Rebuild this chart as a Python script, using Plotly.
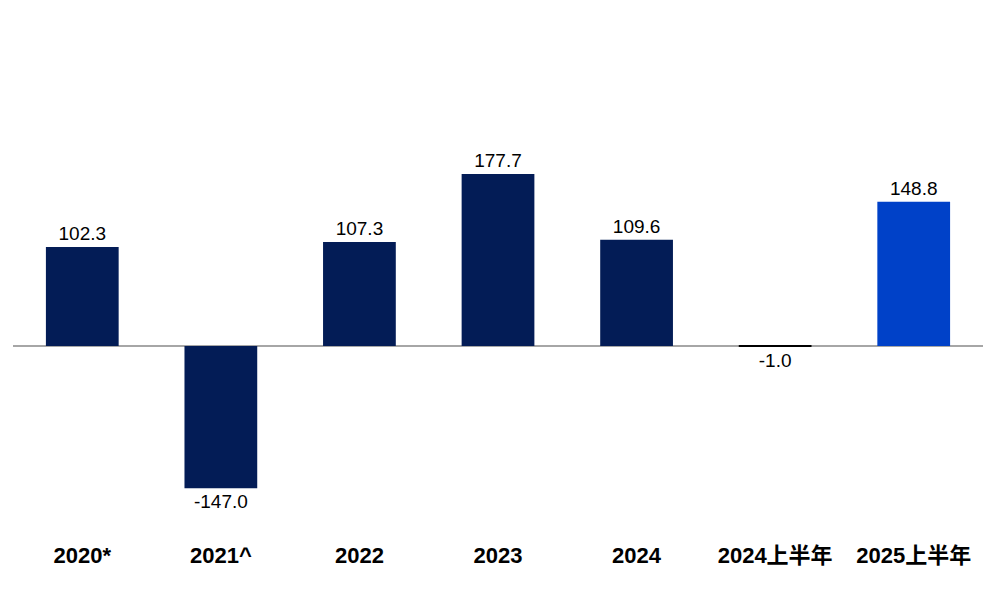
import plotly.graph_objects as go

CATEGORIES = ["2020*", "2021^", "2022", "2023", "2024", "2024上半年", "2025上半年"]
VALUES = [102.3, -147.0, 107.3, 177.7, 109.6, -1.0, 148.8]
BAR_COLORS = ["#031c56", "#031c56", "#031c56", "#031c56", "#031c56", "#000000", "#0041c8"]

FONT = "Liberation Sans, Arial, Noto Sans CJK SC, sans-serif"

fig = go.Figure(
    go.Bar(
        x=CATEGORIES,
        y=VALUES,
        marker=dict(color=BAR_COLORS, line=dict(width=0)),
        text=[f"{v:.1f}" for v in VALUES],
        textposition="outside",
        textfont=dict(family=FONT, size=19, color="#000000"),
        cliponaxis=False,
    )
)

fig.update_xaxes(
    tickfont=dict(family=FONT, size=22, color="#000000", weight="bold"),
    showgrid=False,
    showline=False,
    ticks="",
    automargin=False,
)
fig.update_yaxes(
    range=[-200.4, 254],
    showgrid=False,
    showticklabels=False,
    zeroline=True,
    zerolinecolor="#a6a6a6",
    zerolinewidth=2,
    automargin=False,
)
fig.update_layout(
    width=1000,
    height=600,
    margin=dict(l=5, r=25, t=92, b=68),
    bargap=0.475,
    paper_bgcolor="white",
    plot_bgcolor="white",
    showlegend=False,
)

fig.write_html("out.html")
